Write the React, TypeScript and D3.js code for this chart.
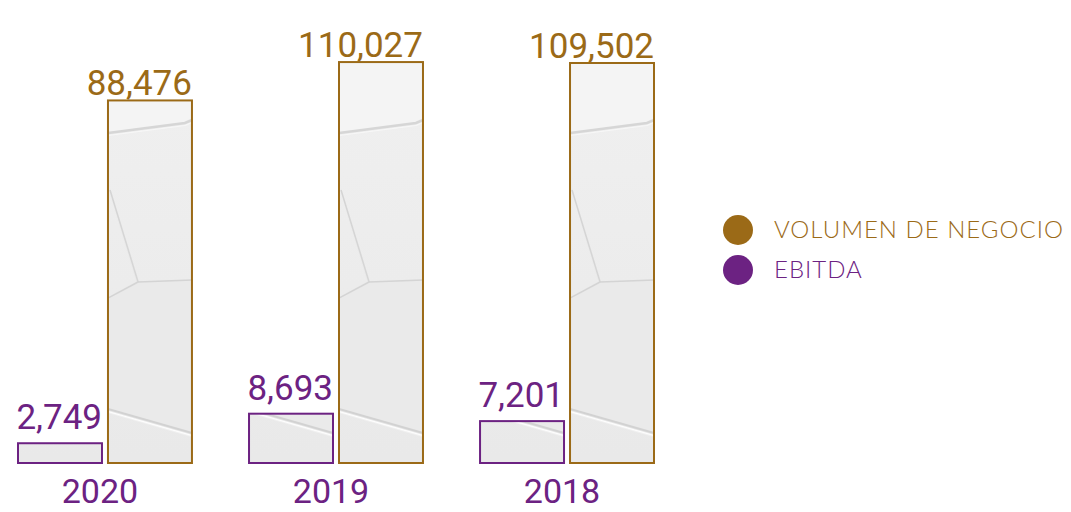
import React from "react";
import * as d3 from "d3";

const years = ["2020", "2019", "2018"];
const series = ["EBITDA", "VOLUMEN DE NEGOCIO"];
const ebitda = [2749, 8693, 7201];
const volumen = [88476, 110027, 109502];
const legendItems = ["VOLUMEN DE NEGOCIO", "EBITDA"];

const GOLD = "#9b6a17";
const PURPLE = "#6c2282";
const W = 1071;
const H = 512;
const BASE = 463;

const fmt = d3.format(",");

export default function App() {
  const x = d3.scaleBand<string>().domain(years).range([18, 654]).paddingInner(0.247).paddingOuter(0);
  const xi = d3.scaleBand<string>().domain(series).range([0, x.bandwidth()]).paddingInner(0.0667);
  // each series has its own (non-proportional) scale, as in the infographic
  const yVol = d3.scaleLinear().domain([0, 120000]).range([BASE - 205, BASE - 418.7]);
  const yEb = d3.scaleLinear().domain([0, 10000]).range([BASE - 6.1, BASE - 55.8]);

  const colorOf: Record<string, string> = { EBITDA: PURPLE, "VOLUMEN DE NEGOCIO": GOLD };
  const valuesOf: Record<string, number[]> = { EBITDA: ebitda, "VOLUMEN DE NEGOCIO": volumen };
  const scaleOf: Record<string, d3.ScaleLinear<number, number>> = { EBITDA: yEb, "VOLUMEN DE NEGOCIO": yVol };
  const gapOf: Record<string, number> = { EBITDA: 14, "VOLUMEN DE NEGOCIO": 5 };

  const step = x.step();

  const tile = (
    <>
      <rect x={0} y={0} width={step} height={H} fill="url(#bgGrad)" />
      <path d="M0,0 L84,0 L84,120 L77,123 L0,133 Z" fill="#f4f4f4" />
      <path d="M0,300 L30,282 L84,280 L84,434 L0,410 Z" fill="#eaeaea" />
      <path d="M0,133 L77,123 L84,120" fill="none" stroke="#d6d6d6" strokeWidth={2.5} />
      <path d="M0,135.5 L77,125.5 L84,122.5" fill="none" stroke="#f8f8f8" strokeWidth={1} />
      <path d="M2,190 L30,282 L84,280" fill="none" stroke="#d4d4d4" strokeWidth={1.5} />
      <path d="M0,298 L30,282" fill="none" stroke="#d4d4d4" strokeWidth={1.5} />
      <path d="M0,409 L84,433" fill="none" stroke="#d2d2d2" strokeWidth={2} />
      <path d="M0,412 L84,436" fill="none" stroke="#ffffff" strokeWidth={2} />
      <path d="M0,412 L84,436 L84,512 L0,512 Z" fill="#e9e9e9" opacity={0.6} />
    </>
  );

  const font = "Roboto, 'Noto Sans', sans-serif";

  return (
    <svg width={W} height={H} style={{ position: "absolute", left: 0, top: 0, background: "#fff" }}>
      <defs>
        <linearGradient id="bgGrad" x1="0" y1="0" x2="0" y2="1">
          <stop offset="0" stopColor="#f1f1f1" />
          <stop offset="1" stopColor="#e8e8e8" />
        </linearGradient>
        {series.map((s, i) => (
          <pattern
            key={s}
            id={`tex${i}`}
            patternUnits="userSpaceOnUse"
            x={xi(s) ?? 0}
            y={0}
            width={step}
            height={H}
          >
            {tile}
          </pattern>
        ))}
      </defs>

      {years.map((yr, yi) => (
        <g key={yr} transform={`translate(${x(yr)},0)`}>
          {series.map((s, si) => {
            const v = valuesOf[s][yi];
            const yTop = scaleOf[s](v);
            const bx = xi(s) ?? 0;
            const bw = xi.bandwidth();
            return (
              <g key={s}>
                <rect
                  x={bx}
                  y={yTop}
                  width={bw}
                  height={BASE - yTop}
                  fill={`url(#tex${si})`}
                  stroke={colorOf[s]}
                  strokeWidth={2}
                />
                <text
                  x={bx + bw}
                  y={yTop - gapOf[s]}
                  textAnchor="end"
                  fontFamily={font}
                  fontWeight={400}
                  fontSize={35}
                  fill={colorOf[s]}
                >
                  {fmt(v)}
                </text>
              </g>
            );
          })}
          <text
            x={x.bandwidth() / 2 - 5}
            y={503}
            textAnchor="middle"
            fontFamily={font}
            fontWeight={400}
            fontSize={34}
            fill={PURPLE}
          >
            {yr}
          </text>
        </g>
      ))}

      {legendItems.map((name, i) => (
        <g key={name} transform={`translate(738,${230 + i * 40})`}>
          <circle r={15} fill={colorOf[name]} />
          <text
            x={36}
            y={7.5}
            fontFamily="Lato, 'Open Sans', sans-serif"
            fontWeight={300}
            fontSize={24}
            letterSpacing={1}
            fill={colorOf[name]}
          >
            {name}
          </text>
        </g>
      ))}
    </svg>
  );
}
